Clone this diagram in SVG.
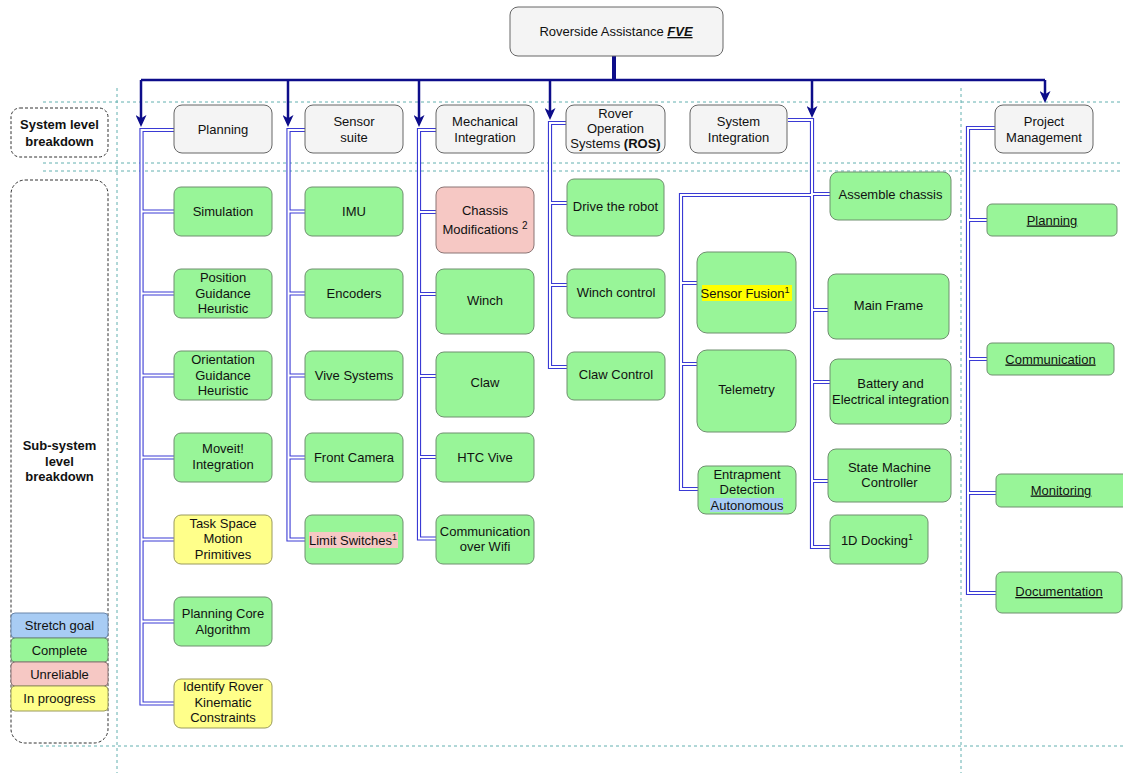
<svg xmlns="http://www.w3.org/2000/svg" width="1123" height="773" viewBox="0 0 1123 773">
  <style>
    text { font-family: "Liberation Sans", Arial, Helvetica, sans-serif; font-size: 13px; fill: #111; text-anchor: middle; }
    .bold { font-weight: bold; }
    .hdr { fill: #f4f4f4; stroke: #666; stroke-width: 1; }
    .g { fill: #98f598; stroke: #6f8f6f; stroke-width: 1; }
    .y { fill: #ffff8a; stroke: #9a9a5c; stroke-width: 1; }
    .p { fill: #f6c8c4; stroke: #8a7474; stroke-width: 1; }
    .b { fill: #a8ccf4; stroke: #6a86aa; stroke-width: 1; }
    .lab { fill: none; stroke: #333; stroke-width: 1; stroke-dasharray: 3 2; }
    .guide { fill: none; stroke: #62b0b0; stroke-width: 1; stroke-dasharray: 3 3; }
    .pipe-o { fill: none; stroke: #3a3ad4; stroke-width: 4.2; }
    .pipe-i { fill: none; stroke: #fff; stroke-width: 2; }
    .main { fill: none; stroke: #0d0d8a; stroke-width: 2.5; }
    .u { text-decoration: underline; }
  </style>
  <defs>
    <marker id="arrow" viewBox="0 0 12 11" refX="4" refY="5.5" markerWidth="12" markerHeight="11" markerUnits="userSpaceOnUse" orient="auto">
      <path d="M0,0 L12,5.5 L0,11 L3.2,5.5 z" fill="#0d0d8a"/>
    </marker>
  </defs>
  <rect width="1123" height="773" fill="#fff"/>

  <!-- swimlane guides -->
  <g id="guides">
    <line class="guide" x1="43" y1="102" x2="1123" y2="102"/>
    <line class="guide" x1="43" y1="163" x2="1123" y2="163"/>
    <line class="guide" x1="43" y1="171" x2="1123" y2="171"/>
    <line class="guide" x1="40" y1="746" x2="1123" y2="746"/>
    <line class="guide" x1="117" y1="88" x2="117" y2="773"/>
    <line class="guide" x1="961" y1="88" x2="961" y2="773"/>
  </g>

  <!-- row labels -->
  <g id="label-system">
    <rect class="lab" x="11" y="108" width="97" height="49" rx="9"/>
    <text class="bold" x="59.5" y="129">System level</text>
    <text class="bold" x="59.5" y="146">breakdown</text>
  </g>
  <g id="label-subsystem">
    <rect class="lab" x="11" y="180" width="97" height="563" rx="14"/>
    <text class="bold" x="59.5" y="450">Sub-system</text>
    <text class="bold" x="59.5" y="466">level</text>
    <text class="bold" x="59.5" y="481">breakdown</text>
  </g>

  <!-- legend -->
  <g id="legend">
    <rect class="b" x="11" y="613" width="97" height="25" rx="4"/>
    <text x="59.5" y="630">Stretch goal</text>
    <rect class="g" x="11" y="638" width="97" height="24" rx="4"/>
    <text x="59.5" y="654.5">Complete</text>
    <rect class="p" x="11" y="662" width="97" height="24" rx="4"/>
    <text x="59.5" y="678.5">Unreliable</text>
    <rect class="y" x="11" y="686" width="97" height="25" rx="4"/>
    <text x="59.5" y="703">In proogress</text>
  </g>

  <!-- connectors -->
  <g id="connectors">
    <g id="main-links">
      <path d="M614,56 V81" fill="none" stroke="#0d0d8a" stroke-width="4"/>
      <path class="main" d="M141,80 H1045"/>
      <path class="main" d="M141,80 V119" marker-end="url(#arrow)"/>
      <path class="main" d="M288,80 V119" marker-end="url(#arrow)"/>
      <path class="main" d="M419,80 V119" marker-end="url(#arrow)"/>
      <path class="main" d="M550,80 V112" marker-end="url(#arrow)"/>
      <path class="main" d="M812,80 V110" marker-end="url(#arrow)"/>
      <path class="main" d="M1045,80 V95" marker-end="url(#arrow)"/>
    </g>
    <g id="tree-links">
      <path class="pipe-o" d="M174,130 H141.5 V703.5 H174 M141.5,211.5 H174 M141.5,293.5 H174 M141.5,375.5 H174 M141.5,457.5 H174 M141.5,539.5 H174 M141.5,621.5 H174"/>
      <path class="pipe-o" d="M305,130 H288.5 V539.5 H305 M288.5,211.5 H305 M288.5,293.5 H305 M288.5,375.5 H305 M288.5,457.5 H305"/>
      <path class="pipe-o" d="M436,130 H419 V538.5 H436 M419,212 H436 M419,294 H436 M419,376 H436 M419,457 H436"/>
      <path class="pipe-o" d="M566,123 H550 V367 H567 M550,203 H567 M550,285 H567"/>
      <path class="pipe-o" d="M788,120 H812 V547 H830 M812,194 H830 M812,310 H828 M812,382 H830 M812,481 H828"/>
      <path class="pipe-o" d="M812,195 H681 V489 H698 M681,283 H697 M681,364 H697"/>
      <path class="pipe-o" d="M995,128 H968 V593 H996 M968,220 H987 M968,359 H987 M968,493 H996"/>
      <path class="pipe-i" d="M174,130 H141.5 V703.5 H174 M141.5,211.5 H174 M141.5,293.5 H174 M141.5,375.5 H174 M141.5,457.5 H174 M141.5,539.5 H174 M141.5,621.5 H174"/>
      <path class="pipe-i" d="M305,130 H288.5 V539.5 H305 M288.5,211.5 H305 M288.5,293.5 H305 M288.5,375.5 H305 M288.5,457.5 H305"/>
      <path class="pipe-i" d="M436,130 H419 V538.5 H436 M419,212 H436 M419,294 H436 M419,376 H436 M419,457 H436"/>
      <path class="pipe-i" d="M566,123 H550 V367 H567 M550,203 H567 M550,285 H567"/>
      <path class="pipe-i" d="M788,120 H812 V547 H830 M812,194 H830 M812,310 H828 M812,382 H830 M812,481 H828"/>
      <path class="pipe-i" d="M812,195 H681 V489 H698 M681,283 H697 M681,364 H697"/>
      <path class="pipe-i" d="M995,128 H968 V593 H996 M968,220 H987 M968,359 H987 M968,493 H996"/>
    </g>
  </g>

  <!-- root -->
  <g id="root">
    <rect class="hdr" x="510" y="7" width="213" height="49" rx="8"/>
    <text x="616" y="36">Roverside Assistance <tspan font-weight="bold" font-style="italic" class="u">FVE</tspan></text>
  </g>

  <!-- system level -->
  <g id="sys-planning">
    <rect class="hdr" x="174" y="105" width="98" height="48" rx="8"/>
    <text x="223" y="133.5">Planning</text>
  </g>
  <g id="sys-sensor">
    <rect class="hdr" x="305" y="105" width="98" height="48" rx="8"/>
    <text x="354" y="126">Sensor</text>
    <text x="354" y="141.5">suite</text>
  </g>
  <g id="sys-mechanical">
    <rect class="hdr" x="436" y="105" width="98" height="48" rx="8"/>
    <text x="485" y="126">Mechanical</text>
    <text x="485" y="141.5">Integration</text>
  </g>
  <g id="sys-ros">
    <rect class="hdr" x="566" y="105" width="99" height="48" rx="8"/>
    <text x="615.5" y="118">Rover</text>
    <text x="615.5" y="133">Operation</text>
    <text x="615.5" y="148">Systems <tspan class="bold">(ROS)</tspan></text>
  </g>
  <g id="sys-integration">
    <rect class="hdr" x="690" y="105" width="97" height="48" rx="8"/>
    <text x="738.5" y="126">System</text>
    <text x="738.5" y="141.5">Integration</text>
  </g>
  <g id="sys-project">
    <rect class="hdr" x="995" y="105" width="98" height="48" rx="8"/>
    <text x="1044" y="126">Project</text>
    <text x="1044" y="141.5">Management</text>
  </g>

  <!-- planning -->
  <g id="simulation">
    <rect class="g" x="174" y="187" width="98" height="49" rx="7"/>
    <text x="223" y="216">Simulation</text>
  </g>
  <g id="position-guidance">
    <rect class="g" x="174" y="269" width="98" height="49" rx="7"/>
    <text x="223" y="282">Position</text>
    <text x="223" y="297.5">Guidance</text>
    <text x="223" y="313">Heuristic</text>
  </g>
  <g id="orientation-guidance">
    <rect class="g" x="174" y="351" width="98" height="49" rx="7"/>
    <text x="223" y="364">Orientation</text>
    <text x="223" y="379.5">Guidance</text>
    <text x="223" y="395">Heuristic</text>
  </g>
  <g id="moveit">
    <rect class="g" x="174" y="433" width="98" height="49" rx="7"/>
    <text x="223" y="453">Moveit!</text>
    <text x="223" y="469">Integration</text>
  </g>
  <g id="motion-primitives">
    <rect class="y" x="174" y="515" width="98" height="49" rx="7"/>
    <text x="223" y="527.5">Task Space</text>
    <text x="223" y="543">Motion</text>
    <text x="223" y="558.5">Primitives</text>
  </g>
  <g id="planning-core">
    <rect class="g" x="174" y="597" width="98" height="49" rx="7"/>
    <text x="223" y="618">Planning Core</text>
    <text x="223" y="633.5">Algorithm</text>
  </g>
  <g id="kinematic-constraints">
    <rect class="y" x="174" y="679" width="98" height="49" rx="7"/>
    <text x="223" y="691">Identify Rover</text>
    <text x="223" y="706.5">Kinematic</text>
    <text x="223" y="722">Constraints</text>
  </g>

  <!-- sensor suite -->
  <g id="imu">
    <rect class="g" x="305" y="187" width="98" height="49" rx="7"/>
    <text x="354" y="216">IMU</text>
  </g>
  <g id="encoders">
    <rect class="g" x="305" y="269" width="98" height="49" rx="7"/>
    <text x="354" y="298">Encoders</text>
  </g>
  <g id="vive-systems">
    <rect class="g" x="305" y="351" width="98" height="49" rx="7"/>
    <text x="354" y="380">Vive Systems</text>
  </g>
  <g id="front-camera">
    <rect class="g" x="305" y="433" width="98" height="49" rx="7"/>
    <text x="354" y="461.5">Front Camera</text>
  </g>
  <g id="limit-switches">
    <rect class="g" x="305" y="515" width="98" height="49" rx="7"/>
    <rect x="309" y="532" width="89" height="16" fill="#f6c8c4"/>
    <text x="353" y="544.5">Limit Switches<tspan font-size="9" dy="-5">1</tspan></text>
  </g>

  <!-- mechanical integration -->
  <g id="chassis-mods">
    <rect class="p" x="436" y="187" width="98" height="66" rx="8"/>
    <text x="485" y="214.5">Chassis</text>
    <text x="485" y="233.5">Modifications <tspan font-size="10" dy="-5">2</tspan></text>
  </g>
  <g id="winch">
    <rect class="g" x="436" y="269" width="98" height="65" rx="8"/>
    <text x="485" y="305">Winch</text>
  </g>
  <g id="claw">
    <rect class="g" x="436" y="352" width="98" height="65" rx="8"/>
    <text x="485" y="387">Claw</text>
  </g>
  <g id="htc-vive">
    <rect class="g" x="436" y="433" width="98" height="49" rx="7"/>
    <text x="485" y="461.5">HTC Vive</text>
  </g>
  <g id="wifi">
    <rect class="g" x="436" y="515" width="98" height="49" rx="7"/>
    <text x="485" y="535.5">Communication</text>
    <text x="485" y="551">over Wifi</text>
  </g>

  <!-- rover operation systems -->
  <g id="drive">
    <rect class="g" x="567" y="179" width="97" height="57" rx="7"/>
    <text x="615.5" y="211">Drive the robot</text>
  </g>
  <g id="winch-control">
    <rect class="g" x="567" y="269" width="98" height="49" rx="7"/>
    <text x="616" y="297">Winch control</text>
  </g>
  <g id="claw-control">
    <rect class="g" x="567" y="352" width="98" height="48" rx="7"/>
    <text x="616" y="378.5">Claw Control</text>
  </g>

  <!-- system integration -->
  <g id="sensor-fusion">
    <rect class="g" x="697" y="252" width="99" height="81" rx="10"/>
    <rect x="702" y="285" width="90" height="16" fill="#ffff00"/>
    <text x="745" y="297.5">Sensor Fusion<tspan font-size="9" dy="-5">1</tspan></text>
  </g>
  <g id="telemetry">
    <rect class="g" x="697" y="350" width="99" height="82" rx="10"/>
    <text x="746.5" y="394">Telemetry</text>
  </g>
  <g id="entrapment">
    <rect class="g" x="698" y="466" width="98" height="48" rx="8"/>
    <rect x="710" y="498" width="73" height="14" fill="#a8ccf4"/>
    <text x="747" y="478.5">Entrapment</text>
    <text x="747" y="494">Detection</text>
    <text x="747" y="509.5">Autonomous</text>
  </g>
  <g id="assemble-chassis">
    <rect class="g" x="830" y="172" width="121" height="48" rx="8"/>
    <text x="890.5" y="199">Assemble chassis</text>
  </g>
  <g id="main-frame">
    <rect class="g" x="828" y="274" width="121" height="65" rx="8"/>
    <text x="888.5" y="310">Main Frame</text>
  </g>
  <g id="battery">
    <rect class="g" x="830" y="359" width="121" height="65" rx="8"/>
    <text x="890.5" y="388">Battery and</text>
    <text x="890.5" y="404">Electrical integration</text>
  </g>
  <g id="state-machine">
    <rect class="g" x="828" y="449" width="123" height="53" rx="8"/>
    <text x="889.5" y="472">State Machine</text>
    <text x="889.5" y="487">Controller</text>
  </g>
  <g id="docking">
    <rect class="g" x="830" y="515" width="98" height="49" rx="7"/>
    <text x="877" y="544.5">1D Docking<tspan font-size="9" dy="-5">1</tspan></text>
  </g>

  <!-- project management -->
  <g id="pm-planning">
    <rect class="g" x="987" y="204" width="130" height="32" rx="5"/>
    <text class="u" x="1052" y="224.5">Planning</text>
  </g>
  <g id="pm-communication">
    <rect class="g" x="987" y="343" width="127" height="32" rx="5"/>
    <text class="u" x="1050.5" y="363.5">Communication</text>
  </g>
  <g id="pm-monitoring">
    <rect class="g" x="996" y="474" width="132" height="33" rx="5"/>
    <text class="u" x="1061" y="494.5">Monitoring</text>
  </g>
  <g id="pm-documentation">
    <rect class="g" x="996" y="572" width="126" height="41" rx="6"/>
    <text class="u" x="1059" y="596">Documentation</text>
  </g>
</svg>
